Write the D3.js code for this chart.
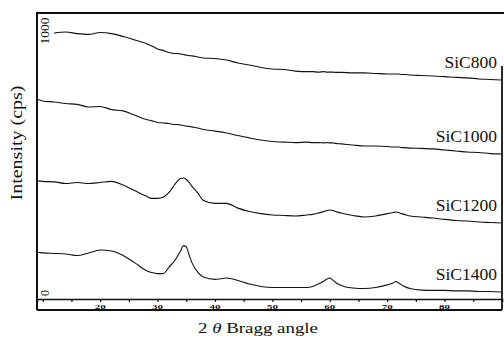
<!DOCTYPE html>
<html>
<head>
<meta charset="utf-8">
<script src="https://cdn.jsdelivr.net/npm/d3@7"></script>
<style>
  html, body { margin: 0; padding: 0; background: #fff; }
  svg { display: block; }
</style>
</head>
<body>
<div id="chart"></div>
<script>
// ---- data ----
const angles = [9.2, 10, 12, 14, 16, 18, 20, 22, 24, 26, 28, 29, 30, 31, 32, 33, 33.5, 34, 34.5, 35,
  35.5, 36, 37, 38, 40, 42, 44, 46, 48, 50, 52, 54, 56, 57, 58, 59, 59.5, 60, 60.5, 61,
  62, 64, 66, 68, 70, 71, 71.5, 72, 72.5, 73, 74, 76, 78, 80, 82, 84, 86, 88, 89.8];

// SiC800 trace starts only at about 11.5 deg (null = no reading)
const sic800 = [null, null, 992, 996, 990, 987, 994, 990, 979, 966, 952, 943, 931, 926, 918, 914, 914, 912, 910, 908,
  906, 905, 901, 897, 895, 889, 878, 870, 861, 855, 853, 847, 845, 845, 843, 845, 843, 843, 843, 842,
  842, 840, 840, 838, 836, 836, 836, 836, 834, 834, 832, 830, 828, 826, 823, 821, 817, 815, 813];

const sic1000 = [739, 733, 729, 723, 720, 710, 712, 700, 695, 679, 662, 657, 651, 649, 647, 643, 643, 641, 639, 637,
  636, 634, 630, 624, 618, 611, 601, 592, 584, 578, 576, 574, 576, 574, 574, 573, 574, 573, 573, 571,
  569, 565, 561, 561, 559, 557, 557, 557, 555, 555, 553, 552, 550, 546, 542, 538, 536, 532, 531];

const sic1200 = [428, 426, 424, 418, 422, 418, 422, 426, 412, 391, 370, 361, 361, 366, 384, 414, 428, 437, 439, 433,
  422, 407, 382, 353, 342, 342, 324, 311, 303, 298, 296, 294, 298, 300, 305, 311, 315, 317, 315, 311,
  305, 296, 290, 294, 303, 307, 309, 307, 303, 300, 294, 290, 286, 281, 277, 275, 271, 269, 267];

const sic1400 = [155, 153, 151, 149, 143, 153, 164, 160, 143, 116, 86, 78, 74, 74, 99, 124, 141, 160, 181, 176,
  145, 115, 80, 61, 52, 57, 48, 34, 25, 21, 21, 21, 21, 25, 34, 46, 53, 57, 50, 40,
  29, 19, 17, 21, 31, 38, 44, 38, 31, 25, 17, 11, 10, 10, 8, 8, 6, 6, 4];

const seriesNames = ["SiC800", "SiC1000", "SiC1200", "SiC1400"];
const seriesValues = [sic800, sic1000, sic1200, sic1400];
const xTickValues = [10, 15, 20, 25, 30, 35, 40, 45, 50, 55, 60, 65, 70, 75, 80, 85, 90];
const xTickLabels = [20, 30, 40, 50, 60, 70, 80];
const yTickLabels = [0, 1000];
const xTitle = "Bragg angle";
const yTitle = "Intensity (cps)";

// ---- drawing ----
const W = 504, H = 338;
const svg = d3.select("#chart").append("svg").attr("width", W).attr("height", H);

const x = d3.scaleLinear().domain([9, 90]).range([37, 502]);
const y = d3.scaleLinear().domain([0, 1000]).range([293, 31]);

const plotTop = 13, stripTop = 299, stripBottom = 310;
const ink = "#111";

// frame
const frame = svg.append("g").attr("stroke", ink).attr("fill", "none");
frame.append("line").attr("x1", 36).attr("x2", 504).attr("y1", plotTop).attr("y2", plotTop).attr("stroke-width", 2);
frame.append("line").attr("x1", 37).attr("x2", 37).attr("y1", plotTop).attr("y2", stripBottom).attr("stroke-width", 2);
frame.append("line").attr("x1", 502).attr("x2", 502).attr("y1", 66).attr("y2", stripBottom).attr("stroke-width", 1.8);
frame.append("line").attr("x1", 37).attr("x2", 502).attr("y1", stripBottom).attr("y2", stripBottom).attr("stroke-width", 1.8);

// x axis strip
const xAxis = d3.axisBottom(x).tickValues(xTickValues).tickSize(3).tickFormat("");
const gx = svg.append("g").attr("transform", `translate(0,${stripTop})`).call(xAxis);
gx.select(".domain").attr("stroke", ink).attr("stroke-width", 1.6);
gx.selectAll(".tick line").attr("stroke", ink).attr("stroke-width", 1.2);

svg.append("g").selectAll("text").data(xTickLabels).join("text")
  .attr("transform", d => `translate(${x(d)},308.5) scale(1,0.62)`)
  .attr("text-anchor", "middle")
  .attr("font-family", "Liberation Serif, serif")
  .attr("font-weight", "bold")
  .attr("font-size", 11)
  .attr("fill", ink)
  .text(d => d);

// y tick labels (rotated)
svg.append("g").selectAll("text").data(yTickLabels).join("text")
  .attr("transform", d => `translate(45,${y(d)}) rotate(-90)`)
  .attr("text-anchor", "middle")
  .attr("dominant-baseline", "central")
  .attr("font-family", "Liberation Serif, serif")
  .attr("font-size", 12)
  .attr("fill", ink)
  .each(function(d) {
    if (d === 1000) d3.select(this).attr("textLength", 27).attr("lengthAdjust", "spacingAndGlyphs");
  })
  .text(d => d);

// curves
const line = d3.line()
  .defined(d => d != null)
  .x((d, i) => x(angles[i]))
  .y(d => y(d))
  .curve(d3.curveMonotoneX);

svg.append("g").selectAll("path").data(seriesValues).join("path")
  .attr("d", d => line(d))
  .attr("fill", "none")
  .attr("stroke", ink)
  .attr("stroke-width", 1.1)
  .attr("stroke-linejoin", "round");

// series labels
svg.append("g").selectAll("text").data(seriesNames).join("text")
  .attr("x", 497)
  .attr("y", (d, i) => y(seriesValues[i][seriesValues[i].length - 1]) - 12)
  .attr("text-anchor", "end")
  .attr("font-family", "Liberation Serif, serif")
  .attr("font-size", 17.5)
  .attr("fill", ink)
  .text(d => d);

// axis titles
const xt = svg.append("text")
  .attr("x", 258).attr("y", 333)
  .attr("text-anchor", "middle")
  .attr("font-family", "Liberation Serif, serif")
  .attr("font-size", 15)
  .attr("textLength", 120)
  .attr("lengthAdjust", "spacingAndGlyphs")
  .attr("fill", ink);
xt.append("tspan").text("2 ");
xt.append("tspan").attr("font-style", "italic").text("θ");
xt.append("tspan").text(" " + xTitle);

svg.append("text")
  .attr("transform", "translate(22,143) rotate(-90)")
  .attr("text-anchor", "middle")
  .attr("font-family", "Liberation Serif, serif")
  .attr("font-size", 17)
  .attr("textLength", 115)
  .attr("lengthAdjust", "spacingAndGlyphs")
  .attr("fill", ink)
  .text(yTitle);
</script>
</body>
</html>
